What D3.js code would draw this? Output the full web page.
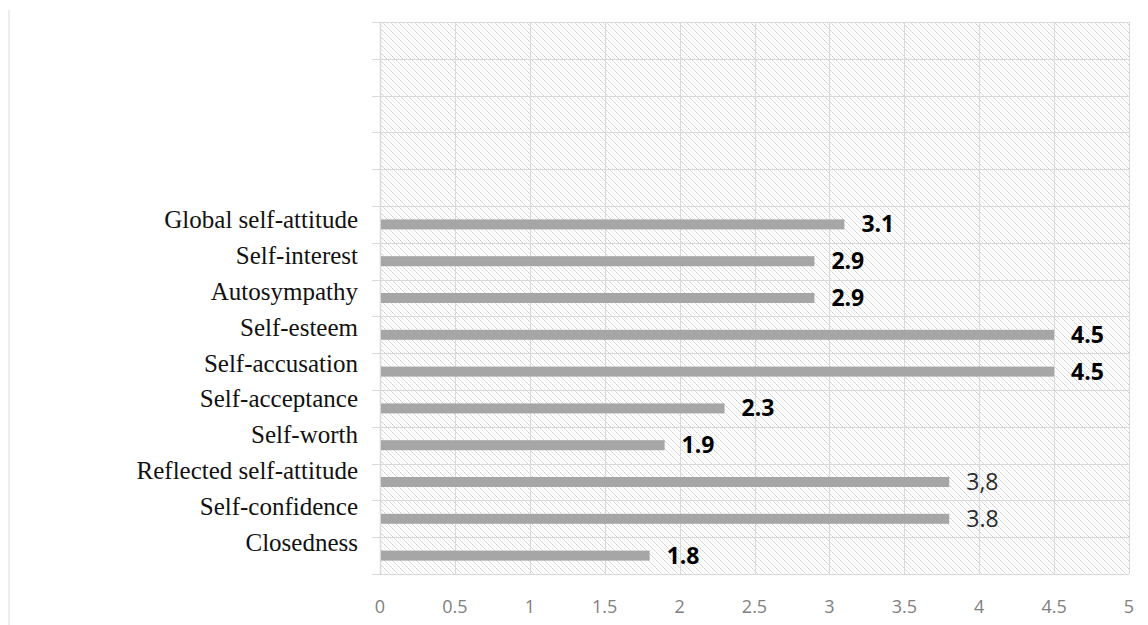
<!DOCTYPE html>
<html>
<head>
<meta charset="utf-8">
<script src="https://cdn.jsdelivr.net/npm/d3@7/dist/d3.min.js"></script>
<style>
  html, body { margin: 0; padding: 0; background: #ffffff; }
  svg { display: block; }
</style>
</head>
<body>
<svg id="chart" width="1148" height="625"></svg>
<script>
// ---- Data (bottom to top) ----
const categories = [
  "Closedness",
  "Self-confidence",
  "Reflected self-attitude",
  "Self-worth",
  "Self-acceptance",
  "Self-accusation",
  "Self-esteem",
  "Autosympathy",
  "Self-interest",
  "Global self-attitude"
];
const values = [1.8, 3.8, 3.8, 1.9, 2.3, 4.5, 4.5, 2.9, 2.9, 3.1];
const valueLabels = ["1.8", "3.8", "3,8", "1.9", "2.3", "4.5", "4.5", "2.9", "2.9", "3.1"];
const xTicks = [0, 0.5, 1, 1.5, 2, 2.5, 3, 3.5, 4, 4.5, 5];
const xTickLabels = ["0", "0.5", "1", "1.5", "2", "2.5", "3", "3.5", "4", "4.5", "5"];
const totalRows = 15; // 10 categories + 5 empty rows at the top

(function () {
// ---- Layout ----
const svg = d3.select("#chart");
const pLeft = 380, pRight = 1129, pTop = 22, pBottom = 574;

const x = d3.scaleLinear().domain([0, 5]).range([pLeft, pRight]);
const y = d3.scaleLinear().domain([0, totalRows]).range([pBottom, pTop]);
const labelY = d3.scalePoint().domain(categories).range([551, 228]);

// faint vertical line at far left
svg.append("rect").attr("x", 8).attr("y", 10).attr("width", 2).attr("height", 615).attr("fill", "#ededed");

// hatch pattern
const defs = svg.append("defs");
const pat = defs.append("pattern")
  .attr("id", "hatch").attr("patternUnits", "userSpaceOnUse")
  .attr("width", 8).attr("height", 8);
pat.append("rect").attr("width", 8).attr("height", 8).attr("fill", "#ffffff");
[[0,0],[1,1],[2,2],[3,3],[4,4],[5,5],[6,6],[7,7]].forEach(([px, py], i) => {
  pat.append("rect").attr("x", px).attr("y", py).attr("width", 1).attr("height", 1)
    .attr("fill", i % 2 === 0 ? "#c9c9c9" : "#dedede");
});
[[4,0],[5,1],[6,2],[7,3],[0,4],[1,5],[2,6],[3,7]].forEach(([px, py]) => {
  pat.append("rect").attr("x", px).attr("y", py).attr("width", 1).attr("height", 1)
    .attr("fill", "#ececec");
});

svg.append("rect")
  .attr("x", pLeft).attr("y", pTop)
  .attr("width", pRight - pLeft).attr("height", pBottom - pTop)
  .attr("fill", "url(#hatch)");

// vertical gridlines
svg.append("g").selectAll("line").data(xTicks).join("line")
  .attr("x1", d => Math.round(x(d)) + 0.5).attr("x2", d => Math.round(x(d)) + 0.5)
  .attr("y1", pTop).attr("y2", pBottom)
  .attr("stroke", "#d9d9d9").attr("stroke-width", 1);

// horizontal row lines with outward ticks
svg.append("g").selectAll("line").data(d3.range(totalRows + 1)).join("line")
  .attr("x1", pLeft - 8).attr("x2", pRight)
  .attr("y1", d => Math.round(y(d)) + 0.5).attr("y2", d => Math.round(y(d)) + 0.5)
  .attr("stroke", "#d9d9d9").attr("stroke-width", 1);

// axis line
svg.append("line")
  .attr("x1", pLeft + 0.5).attr("x2", pLeft + 0.5).attr("y1", pTop).attr("y2", pBottom)
  .attr("stroke", "#d9d9d9").attr("stroke-width", 1.5);

// bars
const barH = 10;
svg.append("g").selectAll("rect").data(values).join("rect")
  .attr("x", x(0) + 1)
  .attr("y", (d, i) => y(i + 0.5) - barH / 2)
  .attr("width", d => x(d) - x(0) - 1)
  .attr("height", barH)
  .attr("fill", "#a6a6a6");

// value labels
const plain = new Set(["Self-confidence", "Reflected self-attitude"]);
svg.append("g").selectAll("text").data(values).join("text")
  .attr("x", d => x(d) + 17)
  .attr("y", (d, i) => y(i + 0.5) + 8)
  .attr("font-family", "'Open Sans', sans-serif")
  .attr("font-size", 23)
  .attr("font-weight", (d, i) => plain.has(categories[i]) ? 400 : 700)
  .attr("fill", (d, i) => plain.has(categories[i]) ? "#2b2b2b" : "#000000")
  .text((d, i) => valueLabels[i]);

// category labels
svg.append("g").selectAll("text").data(categories).join("text")
  .attr("x", 358)
  .attr("y", d => labelY(d))
  .attr("text-anchor", "end")
  .attr("font-family", "'Liberation Serif', 'Times New Roman', serif")
  .attr("font-size", 25)
  .attr("fill", "#111111")
  .text(d => d);

// x tick labels
svg.append("g").selectAll("text").data(xTicks).join("text")
  .attr("x", d => x(d))
  .attr("y", 613)
  .attr("text-anchor", "middle")
  .attr("font-family", "'Open Sans', sans-serif")
  .attr("font-size", 18)
  .attr("fill", "#808080")
  .text((d, i) => xTickLabels[i]);
})();
</script>
</body>
</html>
